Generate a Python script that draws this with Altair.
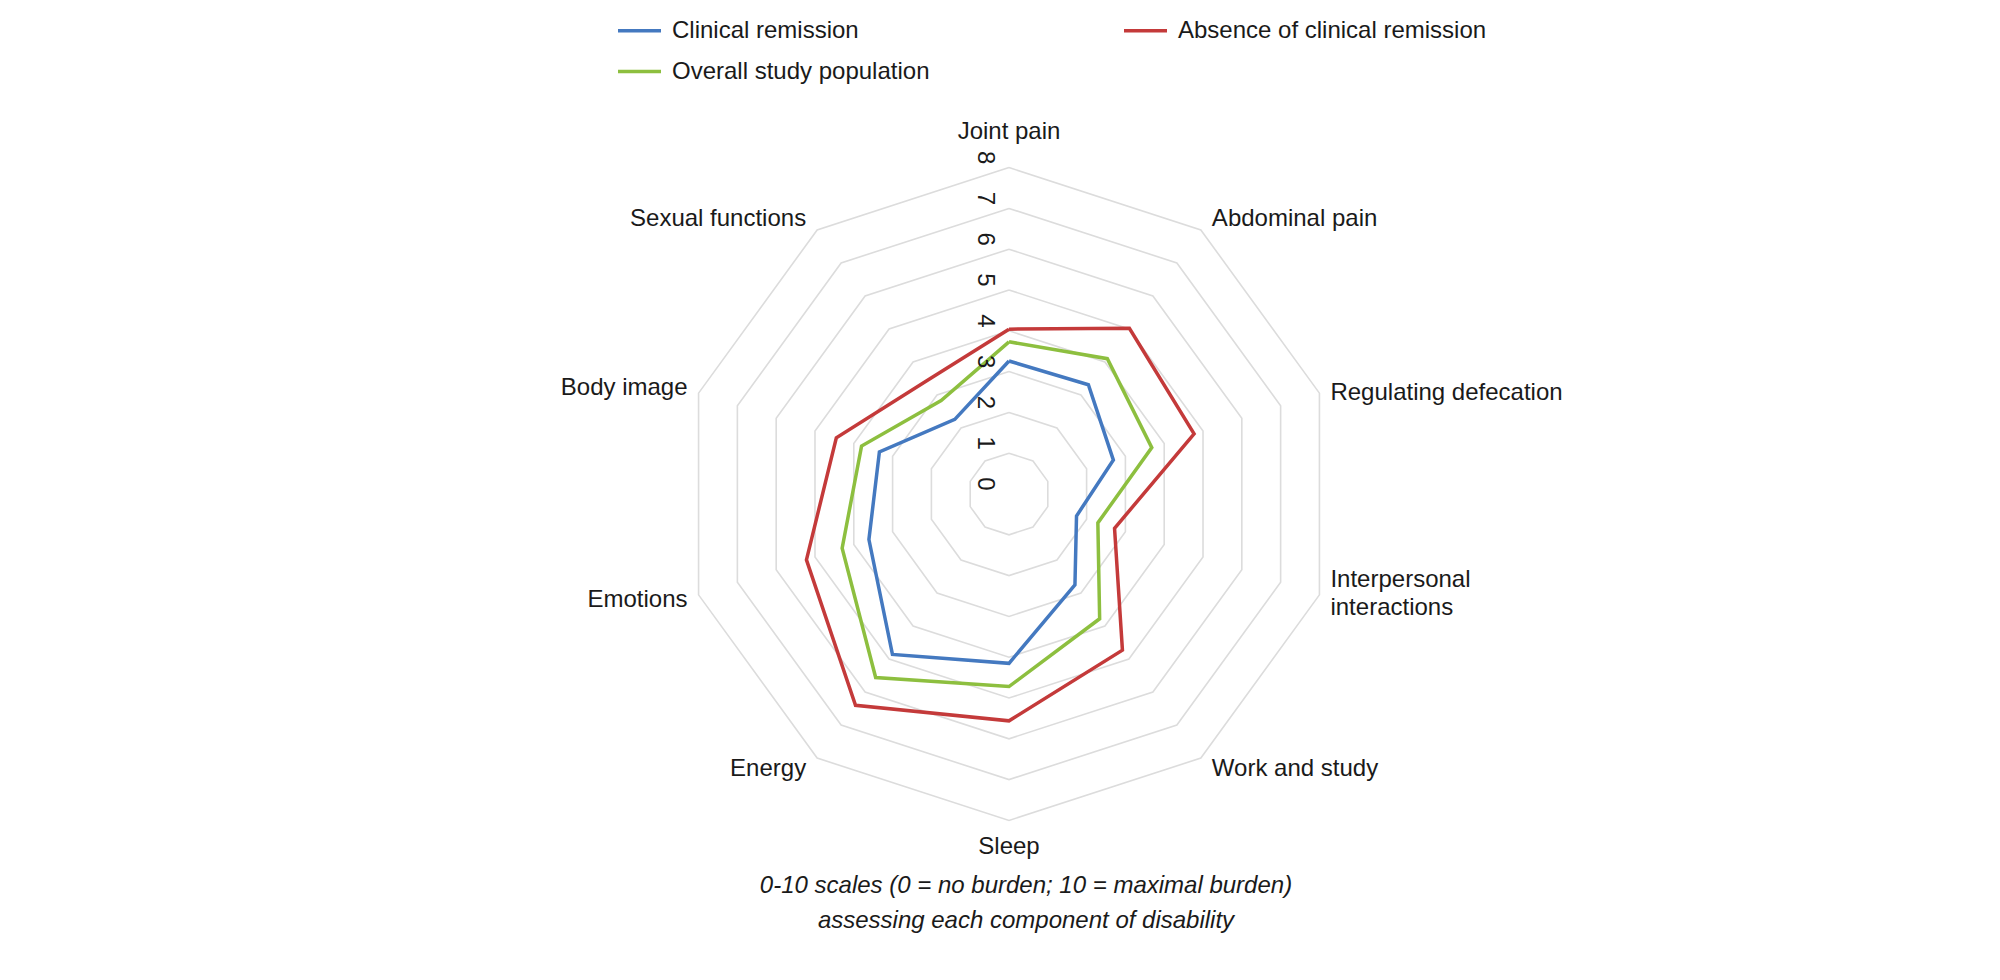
import altair as alt
import pandas as pd

# ---------------- data ----------------
categories = ["Joint pain", "Abdominal pain", "Regulating defecation",
              "Interpersonal interactions", "Work and study", "Sleep",
              "Energy", "Emotions", "Body image", "Sexual functions"]
category_labels = ["Joint pain", "Abdominal pain", "Regulating defecation",
                   "Interpersonal\ninteractions", "Work and study", "Sleep",
                   "Energy", "Emotions", "Body image", "Sexual functions"]
series_names = ["Clinical remission", "Absence of clinical remission",
                "Overall study population"]
clinical_remission = [3.26, 3.31, 2.69, 1.74, 2.75, 4.15, 4.86, 3.61, 3.34, 2.26]
absence_of_remission = [4.04, 5.02, 4.77, 2.72, 4.73, 5.56, 6.40, 5.22, 4.45, 3.43]
overall_population = [3.73, 4.10, 3.68, 2.29, 3.78, 4.72, 5.56, 4.30, 3.80, 2.83]
scale_levels = [0, 1, 2, 3, 4, 5, 6, 7, 8]
caption_lines = ["0-10 scales (0 = no burden; 10 = maximal burden)",
                 "assessing each component of disability"]
series_colors = ["#4479c0", "#c43a3a", "#8dbf3f"]

# ---------------- tables ----------------
n = len(categories)
R = max(scale_levels)

rows = []
for name, vals in zip(series_names, [clinical_remission, absence_of_remission, overall_population]):
    for i in range(n + 1):
        rows.append({"series": name, "idx": i, "value": vals[i % n]})
series_df = pd.DataFrame(rows)

grid_rows = []
for lv in scale_levels[1:]:
    for i in range(n + 1):
        grid_rows.append({"level": lv, "idx": i})
grid_df = pd.DataFrame(grid_rows)

label_df = pd.DataFrame({"idx": list(range(n)), "label": category_labels})
tick_df = pd.DataFrame({"level": scale_levels, "text": [str(v) for v in scale_levels]})
caption_df = pd.DataFrame({"text": ["\n".join(caption_lines)]})

# ---------------- layout ----------------
W, H = 1976, 956
PX = 40.8          # pixels per unit
CX, CY = 1001, 486  # centre inside plot area
xs = alt.Scale(domain=[-CX / PX, (W - CX) / PX], nice=False, zero=False)
ys = alt.Scale(domain=[-(H - CY) / PX, CY / PX], nice=False, zero=False)

FONT = "Liberation Sans"
TXT = "#1a1a1a"
ang = f"2*PI*datum.idx/{n}"
multi = "(indexof(datum.label, '\\n') >= 0 ? 0.37 : 0)"

grid = alt.Chart(grid_df).transform_calculate(
    x=f"datum.level*sin({ang})", y=f"datum.level*cos({ang})"
).mark_line(color="#dcdcdc", strokeWidth=1.6).encode(
    x=alt.X("x:Q", scale=xs, axis=None),
    y=alt.Y("y:Q", scale=ys, axis=None),
    detail="level:N",
    order="idx:Q",
)

lines = alt.Chart(series_df).transform_calculate(
    x=f"datum.value*sin({ang})", y=f"datum.value*cos({ang})"
).mark_line(strokeWidth=3.5).encode(
    x=alt.X("x:Q", scale=xs, axis=None),
    y=alt.Y("y:Q", scale=ys, axis=None),
    color=alt.Color("series:N",
                    scale=alt.Scale(domain=series_names, range=series_colors),
                    legend=alt.Legend(title=None, orient="none", legendX=608, legendY=-1,
                                      direction="horizontal", columns=2,
                                      symbolType="stroke", symbolSize=1849,
                                      symbolStrokeWidth=3.5, labelFontSize=24,
                                      labelFont=FONT, labelColor=TXT, labelOffset=9,
                                      columnPadding=187, rowPadding=5, labelLimit=600,
                                      padding=0)),
    order="idx:Q",
)

base_lab = alt.Chart(label_df).transform_calculate(
    s=f"sin({ang})", c=f"cos({ang})"
)

left_lab = base_lab.transform_filter("datum.s > 0.1").transform_calculate(
    x=f"{R}*datum.s + 0.27",
    y=f"{R}*datum.c + (datum.c > 0.5 ? 0.27 : (datum.c < -0.5 ? -0.27 : 0)) + {multi}",
).mark_text(align="left", baseline="middle", fontSize=24, font=FONT, color=TXT,
            lineBreak="\n", lineHeight=28).encode(
    x=alt.X("x:Q", scale=xs, axis=None), y=alt.Y("y:Q", scale=ys, axis=None), text="label:N")

right_lab = base_lab.transform_filter("datum.s < -0.1").transform_calculate(
    x=f"{R}*datum.s - 0.27",
    y=f"{R}*datum.c + (datum.c > 0.5 ? 0.27 : (datum.c < -0.5 ? -0.27 : (datum.c > 0 ? 0.12 : -0.12))) + {multi}",
).mark_text(align="right", baseline="middle", fontSize=24, font=FONT, color=TXT,
            lineBreak="\n", lineHeight=28).encode(
    x=alt.X("x:Q", scale=xs, axis=None), y=alt.Y("y:Q", scale=ys, axis=None), text="label:N")

top_lab = base_lab.transform_filter("datum.c > 0.99").transform_calculate(
    x="0", y=f"{R}*datum.c"
).mark_text(align="center", baseline="middle", fontSize=24, font=FONT, color=TXT, dy=-36).encode(
    x=alt.X("x:Q", scale=xs, axis=None), y=alt.Y("y:Q", scale=ys, axis=None), text="label:N")

bottom_lab = base_lab.transform_filter("datum.c < -0.99").transform_calculate(
    x="0", y=f"{R}*datum.c"
).mark_text(align="center", baseline="middle", fontSize=24, font=FONT, color=TXT, dy=27).encode(
    x=alt.X("x:Q", scale=xs, axis=None), y=alt.Y("y:Q", scale=ys, axis=None), text="label:N")

ticks = alt.Chart(tick_df).transform_calculate(x="0", y="datum.level").mark_text(
    align="center", baseline="middle", fontSize=24, font=FONT, color=TXT,
    angle=90, dx=-10, dy=24
).encode(x=alt.X("x:Q", scale=xs, axis=None), y=alt.Y("y:Q", scale=ys, axis=None), text="text:N")

caption = alt.Chart(caption_df).transform_calculate(x="0", y=f"-{R}").mark_text(
    align="center", baseline="top", fontSize=24, font=FONT, color=TXT, fontStyle="italic",
    lineBreak="\n", lineHeight=35, dx=17, dy=54
).encode(x=alt.X("x:Q", scale=xs, axis=None), y=alt.Y("y:Q", scale=ys, axis=None), text="text:N")

chart = alt.layer(grid, lines, left_lab, right_lab, top_lab, bottom_lab, ticks, caption).properties(
    width=W, height=H, padding=0, autosize=alt.AutoSizeParams(type="none"),
    background="white"
).configure_view(stroke="transparent")

chart.save("out.html", embed_options={"renderer": "svg", "actions": False})
